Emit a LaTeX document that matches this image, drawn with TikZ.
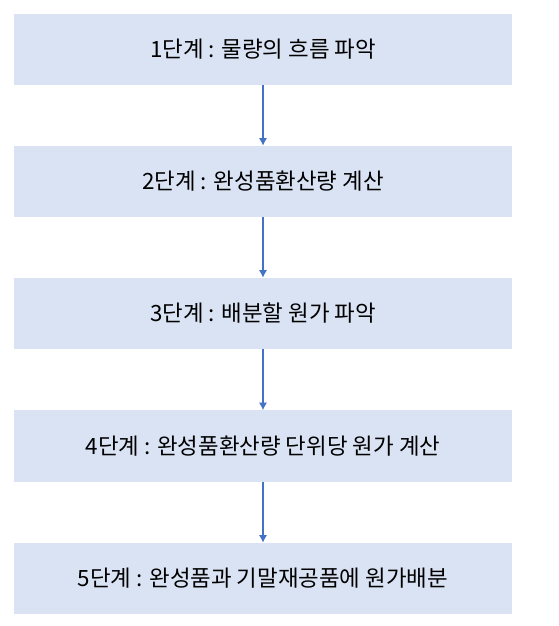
\documentclass[tikz,border=0pt]{standalone}
\usepackage{fontspec}
\setmainfont{Noto Sans CJK KR}
\usetikzlibrary{positioning}
\definecolor{stepfill}{HTML}{DAE3F3}
\definecolor{arrowblue}{HTML}{4472C4}
\tikzset{
  stepbox/.style={fill=stepfill, minimum width=373.5pt, minimum height=53.5pt,
    inner sep=0pt, font=\fontsize{16.8pt}{19pt}\selectfont},
  flow/.style={draw=arrowblue, line width=0.8pt, -{Latex[length=5.5pt,width=6pt]}}
}
\usetikzlibrary{arrows.meta}

\begin{document}
\begin{tikzpicture}[x=0.75pt,y=-0.75pt]
    \useasboundingbox (0,0) rectangle (559,626);
    % five stages, one under the other, 132 px apart
    \node[stepbox] (s1) at (263,49.5) {1단계 : 물량의 흐름 파악};
    \node[stepbox] (s2) at (263,181.5) {2단계 : 완성품환산량 계산};
    \node[stepbox] (s3) at (263,313.5) {3단계 : 배분할 원가 파악};
    \node[stepbox] (s4) at (263,446) {4단계 : 완성품환산량 단위당 원가 계산};
    \node[stepbox] (s5) at (263,578.5) {5단계 : 완성품과 기말재공품에 원가배분};
    \foreach \a/\b in {s1/s2,s2/s3,s3/s4,s4/s5}
      \draw[flow] (\a) -- (\b);
\end{tikzpicture}
\end{document}
